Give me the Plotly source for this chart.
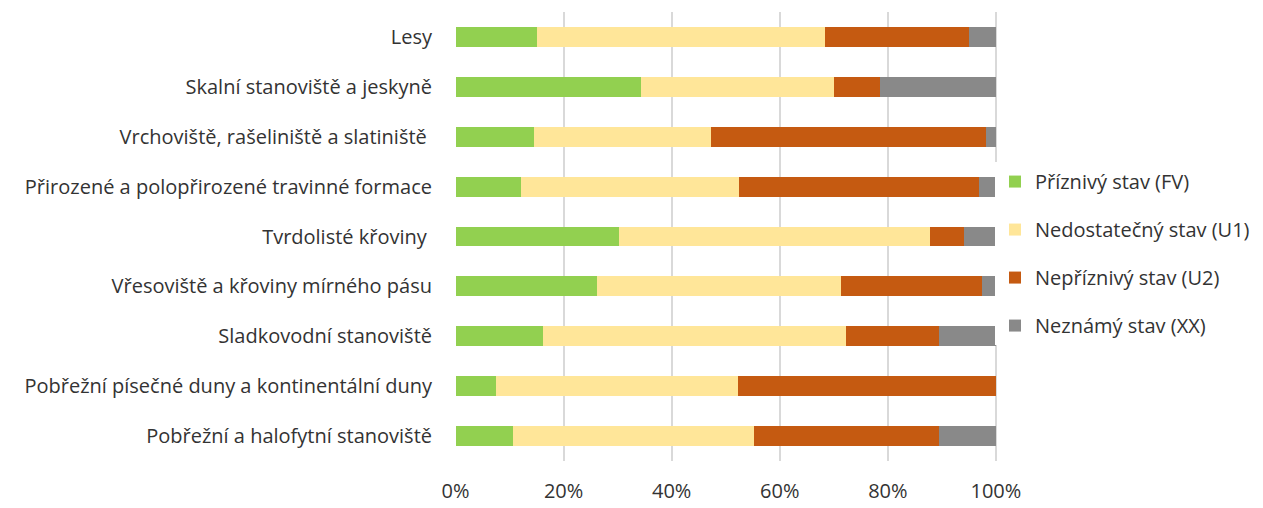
import plotly.graph_objects as go

categories = [
    "Lesy",
    "Skalní stanoviště a jeskyně",
    "Vrchoviště, rašeliniště a slatiniště\u00a0",
    "Přirozené a polopřirozené travinné formace",
    "Tvrdolisté křoviny\u00a0",
    "Vřesoviště a křoviny mírného pásu",
    "Sladkovodní stanoviště",
    "Pobřežní písečné duny a kontinentální duny",
    "Pobřežní a halofytní stanoviště",
]
fv = [15.1, 34.3, 14.6, 12.2, 30.2, 26.2, 16.1, 7.5, 10.6]
u1 = [53.2, 35.7, 32.6, 40.3, 57.6, 45.2, 56.2, 44.8, 44.7]
u2 = [26.8, 8.5, 51.0, 44.3, 6.2, 26.1, 17.1, 47.7, 34.1]
xx = [4.9, 21.5, 1.8, 3.2, 6.0, 2.5, 10.6, 0.0, 10.6]

series = [
    ("Příznivý stav (FV)", fv, "#92D050"),
    ("Nedostatečný stav (U1)", u1, "#FFE699"),
    ("Nepříznivý stav (U2)", u2, "#C55A11"),
    ("Neznámý stav (XX)", xx, "#898989"),
]
x_ticks = [0, 20, 40, 60, 80, 100]
x_ticktext = ["0%", "20%", "40%", "60%", "80%", "100%"]

fig = go.Figure()
for name, vals, color in series:
    fig.add_trace(go.Bar(
        y=categories, x=vals, name=name, orientation="h",
        marker=dict(color=color, line=dict(width=0)),
        legendgroup=name,
    ))

font = dict(family="Open Sans, Noto Sans, sans-serif", size=20, color="#333333")
fig.update_layout(
    barmode="stack",
    bargap=0.6,
    width=1255, height=500,
    margin=dict(l=447, r=266, t=4, b=41),
    plot_bgcolor="white", paper_bgcolor="white",
    font=font,
    showlegend=True,
    legend=dict(
        x=0.9963, xanchor="left", xref="paper",
        y=0.462, yanchor="middle",
        traceorder="grouped",
        tracegroupgap=19,
        font=font,
        itemwidth=30,
    ),
    xaxis=dict(
        range=[-0.1, 100.2], tickvals=x_ticks, ticktext=x_ticktext,
        showgrid=True, gridcolor="#D9D9D9", gridwidth=1.5,
        zeroline=False, showline=False, fixedrange=True,
        ticks="", ticklabelstandoff=16,
    ),
    yaxis=dict(
        autorange="reversed", categoryorder="array", categoryarray=categories,
        showgrid=False, zeroline=False, showline=False,
        ticks="", ticklabelstandoff=22,
    ),
)
fig.write_html("out.html")
